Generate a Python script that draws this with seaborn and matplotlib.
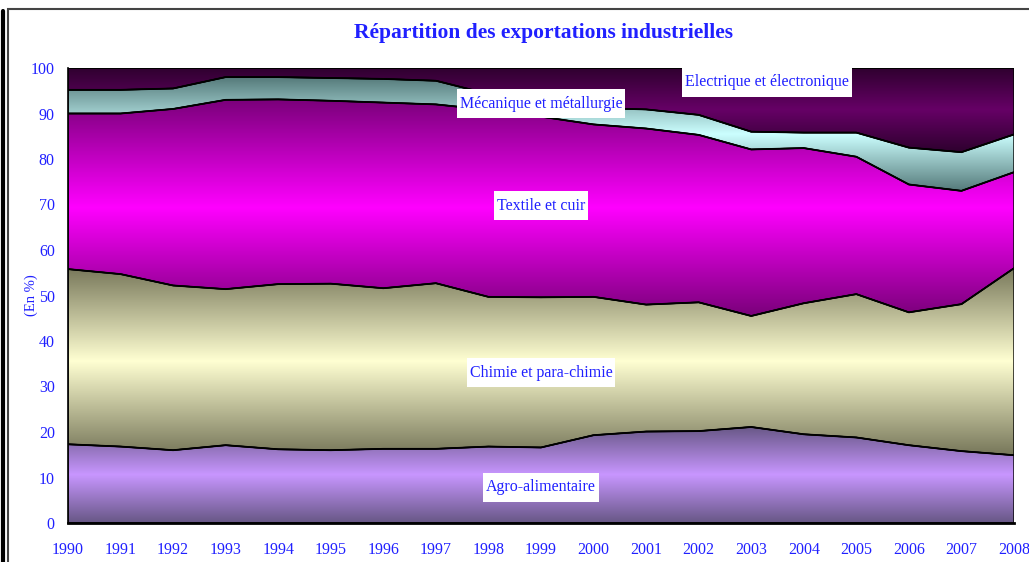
import matplotlib
matplotlib.use("Agg")
import matplotlib.pyplot as plt
from matplotlib.colors import LinearSegmentedColormap
from matplotlib.lines import Line2D
from matplotlib.patches import Rectangle
import numpy as np
import seaborn as sns

years = list(range(1990, 2009))

# parts in %
agro = [17.3, 16.8, 16.0, 17.1, 16.2, 16.0, 16.3, 16.3, 16.8, 16.6,
        19.3, 20.1, 20.2, 21.1, 19.5, 18.8, 17.1, 15.8, 14.9]
chimie = [38.5, 37.9, 36.2, 34.3, 36.3, 36.6, 35.3, 36.4, 32.9, 33.0,
          30.4, 27.9, 28.3, 24.4, 28.8, 31.5, 29.2, 32.3, 41.1]
textile = [34.2, 35.3, 38.8, 41.6, 40.6, 40.2, 40.8, 39.3, 41.1, 39.7,
           37.9, 38.7, 36.8, 36.6, 34.1, 30.2, 28.1, 24.9, 21.1]
mecanique = [5.2, 5.2, 4.5, 5.0, 4.9, 5.0, 5.2, 5.2, 3.5, 3.2,
             3.6, 4.2, 4.4, 3.9, 3.4, 5.3, 8.1, 8.5, 8.3]
electrique = [4.8, 4.8, 4.5, 2.0, 2.0, 2.2, 2.4, 2.8, 5.7, 7.5,
              8.8, 9.1, 10.3, 14.0, 14.2, 14.2, 17.5, 18.5, 14.6]

series_names = ["Agro-alimentaire", "Chimie et para-chimie", "Textile et cuir",
                "Mécanique et métallurgie", "Electrique et électronique"]
series_values = [agro, chimie, textile, mecanique, electrique]
# (edge colour, centre colour) of each vertical gradient
series_colors = [("#675785", "#c896ff"),
                 ("#77775a", "#ffffd2"),
                 ("#7a007a", "#ff00ff"),
                 ("#557a7a", "#ccffff"),
                 ("#2e002e", "#660066")]
# label anchor (year, %)
label_pos = [(1999.0, 7.9), (1999.0, 33.0), (1999.0, 69.7), (1999.0, 92.1), (2003.3, 96.9)]

BLUE = "#2020ff"

sns.set_style("white")
plt.rcParams["font.family"] = ["Liberation Serif", "DejaVu Serif"]

fig = plt.figure(figsize=(10.29, 5.62), dpi=100)
ax = fig.add_axes([68 / 1029, 39 / 562, 946 / 1029, 455 / 562])

x = np.array(years, dtype=float)
lower = np.zeros(len(years))
for name, vals, (c_edge, c_mid) in zip(series_names, series_values, series_colors):
    upper = lower + np.array(vals)
    poly = ax.fill_between(x, lower, upper, facecolor="none", edgecolor="black", lw=1.0, zorder=2)
    ymin, ymax = lower.min(), upper.max()
    cmap = LinearSegmentedColormap.from_list(name, [c_edge, c_mid, c_edge])
    grad = np.linspace(0, 1, 256).reshape(-1, 1)
    im = ax.imshow(grad, cmap=cmap, aspect="auto", origin="lower",
                   extent=[x[0], x[-1], ymin, ymax], zorder=1, interpolation="bilinear")
    im.set_clip_path(poly.get_paths()[0], transform=ax.transData)
    sns.lineplot(x=x, y=upper, color="black", lw=1.3, ax=ax, zorder=3)
    lower = upper

labels = []
for name, (lx, ly) in zip(series_names, label_pos):
    labels.append(ax.text(lx, ly, name, ha="center", va="center", color=BLUE,
                          fontsize=11.5, zorder=6))

ax.set_xlim(1990, 2008)
ax.set_ylim(0, 100)
ax.set_xticks(years)
ax.set_xticklabels([str(y) for y in years])
ax.set_yticks(range(0, 101, 10))
ax.tick_params(axis="both", direction="inout", length=7, width=1, color="black",
               labelcolor=BLUE, labelsize=11.5, pad=6)
ax.tick_params(axis="x", pad=10)
for side in ["top", "right"]:
    ax.spines[side].set_visible(False)
ax.spines["left"].set_color("black")
ax.spines["left"].set_linewidth(1.2)
ax.spines["bottom"].set_color("black")
ax.spines["bottom"].set_linewidth(2)
ax.spines["left"].set_zorder(4)
ax.spines["bottom"].set_zorder(4)
ax.set_ylabel("(En %)", color=BLUE, fontsize=10.5)
ax.yaxis.set_label_coords(-(68 - 38) / 946, 0.5)

fig.suptitle("Répartition des exportations industrielles", x=544 / 1029, y=1 - 33 / 562,
             va="center", color=BLUE, fontsize=15.5, fontweight="bold")

# white boxes behind the series labels (narrow sides, taller top/bottom)
fig.canvas.draw()
renderer = fig.canvas.get_renderer()
for t in labels:
    bb = t.get_window_extent(renderer)
    cy = (bb.y0 + bb.y1) / 2
    fig.patches.append(Rectangle((bb.x0 - 3, cy - 14.5), bb.width + 6, 29,
                                 transform=None, facecolor="white", edgecolor="none", zorder=5))
for t in labels:
    t.remove()
    fig.texts.append(t)
    t.set_figure(fig)
    t.set_transform(ax.transData)
    t.set_clip_on(False)

# outer frame
fig.patches.append(Rectangle((8 / 1029, -0.1), 1.2, 1.1 - 9 / 562, transform=fig.transFigure,
                             fill=False, edgecolor="#444444", lw=1.5))
fig.lines.append(Line2D([2.5 / 1029, 2.5 / 1029], [0, 1 - 11 / 562], transform=fig.transFigure,
                        color="black", lw=3))

fig.savefig("out.png", dpi=100)
